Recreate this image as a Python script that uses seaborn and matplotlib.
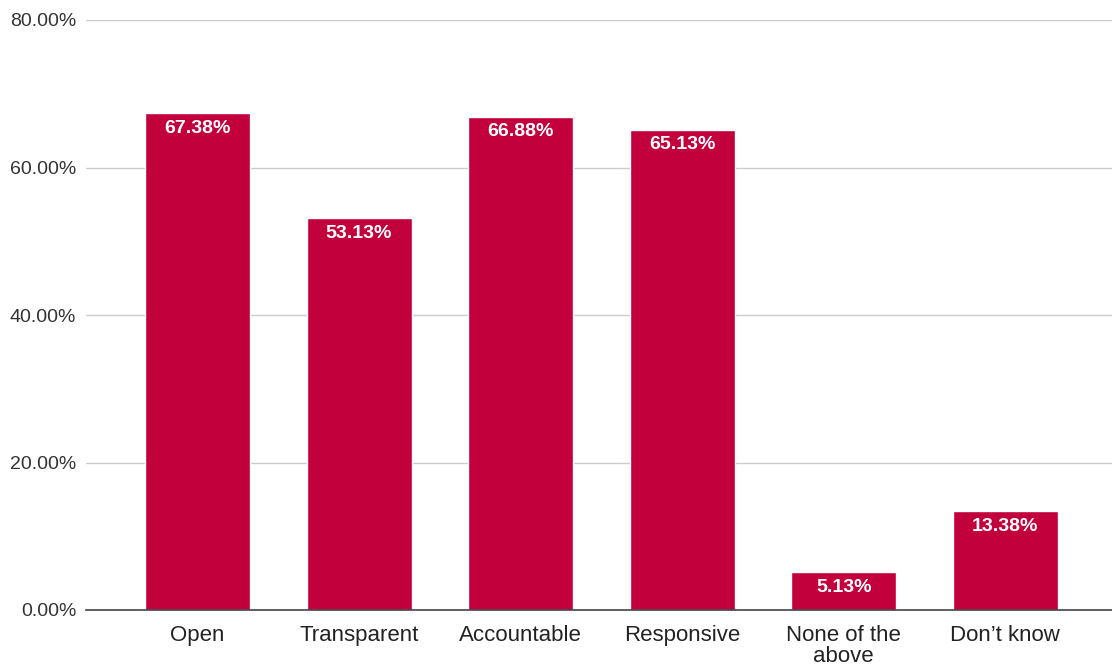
import matplotlib
matplotlib.use("Agg")
import matplotlib.pyplot as plt
import seaborn as sns
import pandas as pd

categories = ["Open", "Transparent", "Accountable", "Responsive", "None of the\nabove", "Don\u2019t know"]
values = [67.38, 53.13, 66.88, 65.13, 5.13, 13.38]
y_ticks = [0, 20, 40, 60, 80]

df = pd.DataFrame({"category": categories, "value": values})

sns.set_theme(style="white")
plt.rcParams["font.family"] = ["Liberation Sans", "DejaVu Sans"]

fig = plt.figure(figsize=(11.12, 6.7), dpi=100)
ax = fig.add_axes([86 / 1112, 60 / 670, 1026 / 1112, 590 / 670])

bar_color = "#c2003c"
sns.barplot(data=df, x="category", y="value", color=bar_color, width=0.65,
            saturation=1, ax=ax, zorder=3)

ax.set_ylim(0, 80)
ax.set_xlim(-0.69, 5.66)
ax.set_yticks(y_ticks)
ax.set_yticklabels([f"{t:.2f}%" for t in y_ticks], fontsize=14, color="#333333")
ax.tick_params(axis="x", labelsize=16, colors="#222222", length=0, pad=11)
ax.tick_params(axis="y", length=0, pad=7)
ax.set_xlabel("")
ax.set_ylabel("")

ax.grid(axis="y", color="#cccccc", linewidth=1, zorder=0)
for s in ["top", "right", "left"]:
    ax.spines[s].set_visible(False)
ax.spines["bottom"].set_color("#444444")
ax.spines["bottom"].set_linewidth(1.2)
ax.spines["bottom"].set_zorder(4)

for container in ax.containers:
    ax.bar_label(container, labels=[f"{v:.2f}%" for v in values], label_type="edge",
                 padding=-17, color="white", fontsize=14, fontweight="bold")

plt.setp(ax.get_xticklabels(), linespacing=1.0)

fig.savefig("out.png", dpi=100)
